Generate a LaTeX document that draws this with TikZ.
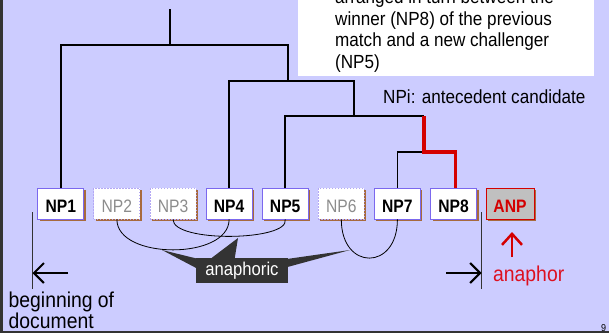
\documentclass[tikz,border=0pt]{standalone}
\usepackage{fontspec}
\setmainfont[FakeStretch=0.9]{Liberation Sans}
\newfontfamily\labelfont[FakeStretch=0.87]{Liberation Sans}
\usetikzlibrary{arrows.meta,shadows,calc}

\definecolor{lav}{HTML}{CCCCFF}
\definecolor{npedge}{HTML}{7B68EE}
\definecolor{npedgelight}{HTML}{B4A8F4}
\definecolor{shade}{HTML}{A86A3C}
\definecolor{redline}{HTML}{D40000}
\definecolor{redtext}{HTML}{DD1020}
\definecolor{calloutbg}{HTML}{333333}
\definecolor{greytext}{HTML}{8C8C8C}
\definecolor{framecol}{HTML}{333333}
\definecolor{anpfill}{HTML}{C0C0C0}

\newcommand\setfs[2]{\fontsize{#1}{#2}\selectfont}

\begin{document}
\begin{tikzpicture}[x=1pt,y=-1pt,
  npbox/.style={draw=npedge, line width=0.9pt, fill=white,
    minimum width=46pt, minimum height=31pt, inner sep=0pt,
    text height=17.6pt, text depth=0pt, font=\labelfont\setfs{18}{20}\bfseries,
    drop shadow={shadow xshift=2pt, shadow yshift=-2pt, fill=shade, opacity=1}},
  npfaint/.style={npbox, draw=npedgelight, dash pattern=on 1.5pt off 1.5pt,
    text=greytext, font=\labelfont\setfs{18}{20}},
  anpbox/.style={npbox, draw=redline, fill=anpfill, text=redline, minimum width=48pt},
  tree/.style={line width=1.8pt, black},
  winner/.style={line width=3.5pt, redline},
  arc/.style={line width=0.8pt, black},
  bar/.style={line width=0.9pt, framecol},
  arr/.style={line width=2pt, black, -{Straight Barb[length=10pt,width=20pt]}},
  calloutbox/.style={fill=calloutbg, text=white, minimum width=92pt,
    minimum height=25pt, inner sep=0pt, font=\setfs{18.5}{20}},
]
\useasboundingbox (0,0) rectangle (609,333);
\fill[lav] (0,0) rectangle (609,333);

% explanatory note (its first line runs off the top edge)
\fill[white] (298,0) rectangle (594,76);
\node[anchor=base west, align=left, inner sep=0pt, font=\setfs{19}{21.5}] (note)
  at (335,68) {arranged in turn between the\\winner (NP8) of the previous\\match and a new challenger\\(NP5)};

\node[anchor=base west, inner sep=0pt, font=\setfs{19}{21.5}] (legend)
  at (383,103) {NPi: antecedent candidate};

% candidate noun phrases and the anaphor
\node[npbox]   (np1) at (60.8,203.5) {NP1};
\node[npfaint] (np2) at (116.9,203.5) {NP2};
\node[npfaint] (np3) at (173.0,203.5) {NP3};
\node[npbox]   (np4) at (229.1,203.5) {NP4};
\node[npbox]   (np5) at (285.2,203.5) {NP5};
\node[npfaint] (np6) at (341.3,203.5) {NP6};
\node[npbox]   (np7) at (397.4,203.5) {NP7};
\node[npbox]   (np8) at (453.5,203.5) {NP8};
\node[anpbox]  (anp) at (510,203.5) {ANP};

% tournament tree
\coordinate (root) at (170,9);
\coordinate (lv1) at (0,45);
\coordinate (lv2) at (0,81);
\coordinate (lv3) at (0,116);
\coordinate (lv4) at (0,152);
\coordinate (j1) at (288,45);
\coordinate (j2) at (354,81);
\coordinate (j3) at (424,116);
\coordinate (j4) at (424,152);

\draw[tree] (root) -- (root |- lv1);
\draw[tree] (np1.north) -- (np1.north |- lv1) -- (j1) -- (j1 |- lv2);
\draw[tree] (np4.north) -- (np4.north |- lv2) -- (j2) -- (j2 |- lv3);
\draw[tree] (np5.north) -- (np5.north |- lv3) -- (j3);
\draw[tree] (np7.north) -- (np7.north |- lv4) -- (j4);
\draw[winner] (j3) -- (j4) -- ([xshift=2pt]np8.north |- lv4) -- ([xshift=2pt]np8.north);

% anaphoric links
\draw[arc] (np2.south) .. controls (116.9,260) and (229.1,260) .. (np4.south);
\draw[arc] (np3.south) .. controls (173,243) and (290,241) .. (np5.south);
\draw[arc] (np6.south) .. controls (341.3,271) and (397.4,271) .. (np7.south);

% callout
\node[calloutbox] (ana) at (242,270.5) {anaphoric};
\coordinate (tipa) at (162,250);
\coordinate (tipb) at (238,238);
\coordinate (tipc) at (350,250);
\fill[calloutbg] (tipa) -- ([yshift=-0.5pt]ana.north west) -- ([yshift=-10pt]ana.north west) -- cycle;
\fill[calloutbg] (tipb) -- ([xshift=16pt]ana.north west) -- ([xshift=39pt]ana.north west) -- cycle;
\fill[calloutbg] (tipc) -- ([yshift=-1pt]ana.north east) -- ([yshift=-9pt]ana.north east) -- cycle;

% span of the document searched
\coordinate (ltop) at (32.5,212);
\coordinate (lbot) at (32.5,289);
\coordinate (rtop) at (481.5,212);
\coordinate (rbot) at (481.5,289);
\draw[bar] (ltop) -- (lbot);
\draw[bar] (rtop) -- (rbot);
\coordinate (la) at (68,273);
\coordinate (ra) at (446,273);
\draw[arr] (la) -- (la -| ltop);
\draw[arr] (ra) -- (ra -| rtop);

\node[anchor=base west, align=left, inner sep=0pt, font=\setfs{21.5}{20}] (doc)
  at (8.5,328.5) {beginning of\\document};

% anaphor marker
\coordinate (ua) at (512,257);
\coordinate (uatip) at (512,232);
\draw[line width=2.5pt, redline, -{Straight Barb[length=11pt,width=20pt]}] (ua) -- (uatip);
\node[anchor=base west, inner sep=0pt, text=redtext, font=\setfs{21.5}{22}] (anaphor)
  at (493,281) {anaphor};

% page frame and number
\draw[line width=2.5pt, framecol] (1.25,0) -- (1.25,333);
\draw[line width=2pt, framecol] (0,332) -- (609,332);
\node[anchor=base, inner sep=0pt, font=\setfs{10}{11}] (pagenum) at (603.5,331) {9};
\end{tikzpicture}
\end{document}
